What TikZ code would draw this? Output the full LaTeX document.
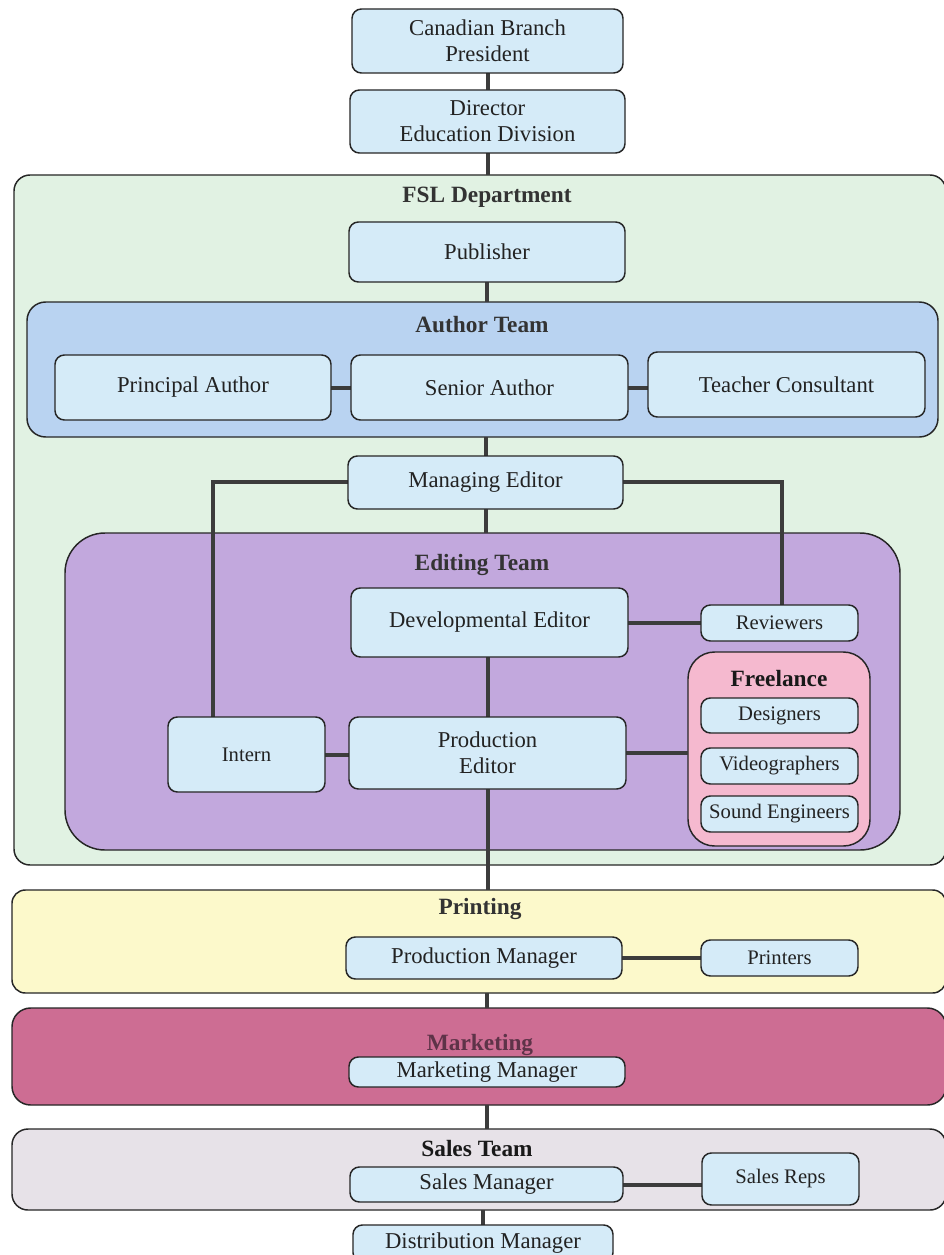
\documentclass[tikz,border=0pt]{standalone}
\usepackage{fontspec}
\setmainfont{Liberation Serif}
\definecolor{boxblue}{HTML}{D5EBF8}
\definecolor{fslgreen}{HTML}{E1F2E3}
\definecolor{authorblue}{HTML}{B9D3F1}
\definecolor{editpurple}{HTML}{C2A8DD}
\definecolor{freepink}{HTML}{F5B9CF}
\definecolor{printyellow}{HTML}{FCF9CB}
\definecolor{marketpink}{HTML}{CD6D93}
\definecolor{salesgray}{HTML}{E7E2E8}
\definecolor{linegray}{HTML}{3C3C3C}
\definecolor{txt}{HTML}{222222}
\definecolor{markettxt}{HTML}{5E3348}
\pgfdeclarelayer{bg}
\pgfdeclarelayer{lines}
\pgfsetlayers{bg,lines,main}
\tikzset{
  box/.style={draw=black!85, line width=1.1pt, fill=boxblue, rounded corners=7pt, align=center, inner sep=0pt, outer sep=0pt, text=txt, font=\fontsize{17}{19.5}\selectfont},
  smallbox/.style={box, font=\fontsize{15.5}{18}\selectfont},
  container/.style={draw=black!85, line width=1.1pt, rounded corners=12pt, inner sep=0pt, outer sep=0pt},
  grouptitle/.style={text=black!80, font=\bfseries\fontsize{17.5}{20}\selectfont, inner sep=0pt},
  conn/.style={draw=linegray, line width=3pt}
}
\newcommand{\placebox}[7][box]{\node[#1,minimum width={(#5-#3)*0.75pt},minimum height={(#6-#4)*0.75pt}] (#2) at ({(#3+#5)/2},{(#4+#6)/2}) {#7};}
\begin{document}
\begin{tikzpicture}[x=0.75pt,y=-0.75pt]
\clip (0,0) rectangle (943,1255);
\begin{pgfonlayer}{bg}
\fill[white] (0,0) rectangle (943,1255);
% containers
\placebox[container, fill=fslgreen]{fsl}{14}{175}{946}{865}{}
\placebox[container, fill=authorblue, rounded corners=14pt]{author}{27}{302}{938}{437}{}
\placebox[container, fill=editpurple, rounded corners=30pt]{editing}{65}{533}{900}{850}{}
\placebox[container, fill=freepink, rounded corners=20pt]{freelance}{688}{652}{870}{846}{}
\placebox[container, fill=printyellow, rounded corners=10pt]{printing}{12}{890}{946}{993}{}
\placebox[container, fill=marketpink, rounded corners=14pt]{marketing}{12}{1008}{946}{1105}{}
\placebox[container, fill=salesgray, rounded corners=12pt]{sales}{12}{1129}{946}{1210}{}
\end{pgfonlayer}
% titles
\node[grouptitle] (fsltitle) at (487,197) {FSL Department};
\node[grouptitle] (authortitle) at (482,325) {Author Team};
\node[grouptitle] (edittitle) at (482,565) {Editing Team};
\node[grouptitle, text=black!90] (freetitle) at (779,679) {Freelance};
\node[grouptitle] (printtitle) at (480,909) {Printing};
\node[grouptitle, text=markettxt] (markettitle) at (480,1045) {Marketing};
\node[grouptitle, text=black!90] (salestitle) at (477,1149) {Sales Team};
% boxes
\placebox{cb}{352}{9}{623}{73}{Canadian Branch\\President}
\placebox{dir}{350}{90}{625}{153}{Director\\Education Division}
\placebox{pub}{349}{222}{625}{282}{Publisher}
\placebox{pa}{55}{355}{331}{420}{Principal Author}
\placebox{sa}{351}{355}{628}{420}{Senior Author}
\placebox{tc}{648}{352}{925}{417}{Teacher Consultant}
\placebox{me}{348}{456}{623}{509}{Managing Editor}
\placebox{de}{351}{588}{628}{657}{Developmental Editor}
\placebox[smallbox]{rev}{701}{605}{858}{641}{Reviewers}
\placebox[smallbox]{des}{701}{698}{858}{733}{Designers}
\placebox[smallbox]{vid}{701}{748}{858}{784}{Videographers}
\placebox[smallbox]{snd}{701}{796}{858}{832}{Sound Engineers}
\placebox[smallbox]{intern}{168}{717}{325}{792}{Intern}
\placebox{pe}{349}{717}{626}{789}{Production\\Editor}
\placebox{prodmgr}{346}{937}{622}{979}{Production Manager}
\placebox[smallbox]{printers}{701}{940}{858}{976}{Printers}
\placebox{mm}{349}{1057}{625}{1087}{Marketing Manager}
\placebox{sm}{350}{1167}{623}{1202}{Sales Manager}
\placebox[smallbox]{reps}{702}{1153}{859}{1205}{Sales Reps}
\placebox{dm}{353}{1225}{613}{1262}{Distribution Manager}
% free connector corners
\coordinate (meleft) at (213,482);
\coordinate (meright) at (782,482);
% connectors (on a layer beneath the boxes)
\begin{pgfonlayer}{lines}
\draw[conn] (cb.south) -- (cb.south |- dir.north);
\draw[conn] (dir.south) -- (dir.south |- fsl.north);
\draw[conn] (pub.south) -- (pub.south |- author.north);
\draw[conn] (pa.east) -- (sa.west);
\draw[conn] (sa.east) -- (sa.east -| tc.west);
\draw[conn] (author.south -| me.north) -- (me.north);
\draw[conn] (me.south) -- (me.south |- editing.north);
\draw[conn] (me.west |- meleft) -- (meleft) -- (meleft |- intern.north);
\draw[conn] (me.east |- meright) -- (meright) -- (meright |- rev.north);
\draw[conn] (de.east |- rev.west) -- (rev.west);
\draw[conn] (de.south -| pe.north) -- (pe.north);
\draw[conn] (intern.east) -- (intern.east -| pe.west);
\draw[conn] (pe.east) -- (pe.east -| freelance.west);
\draw[conn] (pe.south) -- (pe.south |- printing.north);
\draw[conn] (prodmgr.east) -- (prodmgr.east -| printers.west);
\draw[conn] (printing.south -| mm.north) -- (marketing.north -| mm.north);
\draw[conn] (marketing.south -| mm.south) -- (sales.north -| mm.south);
\draw[conn] (sm.east) -- (sm.east -| reps.west);
\draw[conn] (sales.south -| dm.north) -- (dm.north);
\end{pgfonlayer}
\end{tikzpicture}
\end{document}
